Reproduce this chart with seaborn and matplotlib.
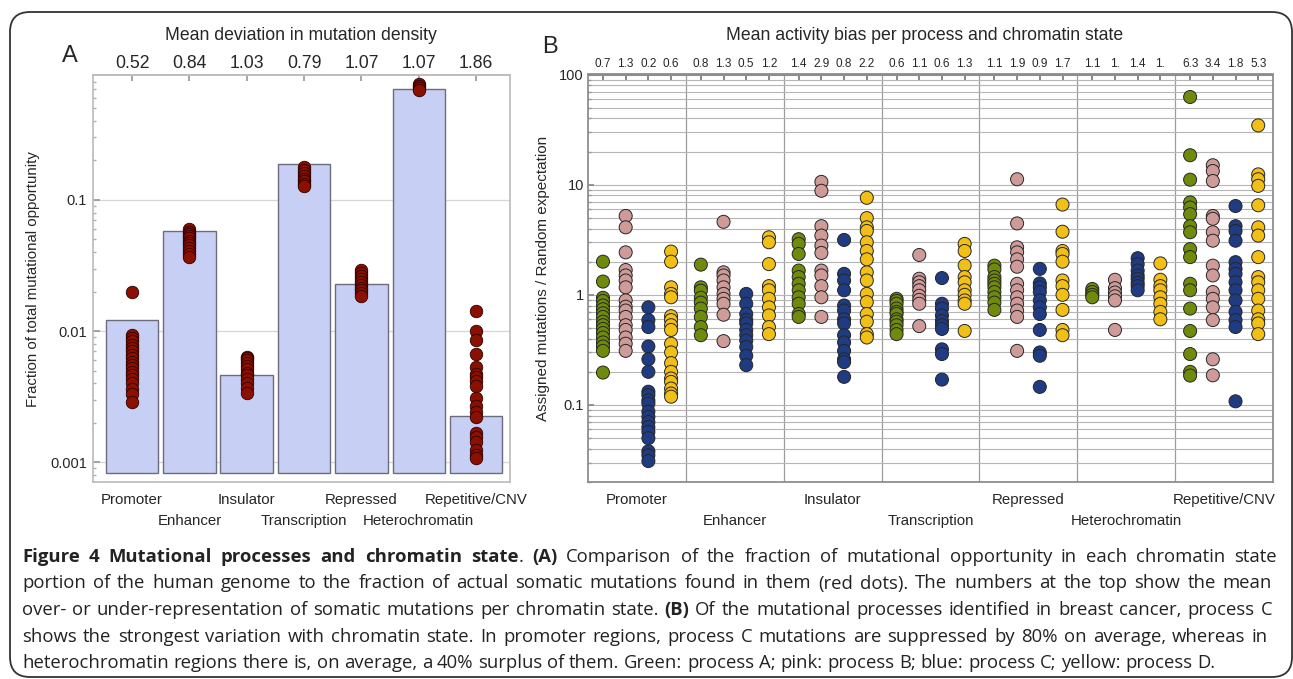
import numpy as np
import pandas as pd
import matplotlib
matplotlib.use("Agg")
import matplotlib.pyplot as plt
import seaborn as sns
from matplotlib import ticker
from matplotlib import font_manager as fm
from matplotlib.patches import FancyBboxPatch

# ---- Panel A data: chromatin states ----
states = ["Promoter", "Enhancer", "Insulator", "Transcription",
          "Repressed", "Heterochromatin", "Repetitive/CNV"]
opportunity = [0.0121, 0.058, 0.0046, 0.188, 0.0229, 0.70, 0.00224]
density_dev = ["0.52", "0.84", "1.03", "0.79", "1.07", "1.07", "1.86"]

# fraction of somatic mutations per sample (red dots)
mut_promoter = [0.0199, 0.0093, 0.0089, 0.0084, 0.0078, 0.0074, 0.0070, 0.0066, 0.0062,
                0.0058, 0.0055, 0.0052, 0.0049, 0.0046, 0.0043, 0.0040, 0.0036, 0.0033, 0.0029]
mut_enhancer = [0.060, 0.057, 0.055, 0.053, 0.051, 0.049, 0.047, 0.045, 0.043, 0.041, 0.039, 0.037]
mut_insulator = [0.0064, 0.0062, 0.0060, 0.0057, 0.0054, 0.0051, 0.0048, 0.0046, 0.0043,
                 0.0040, 0.0037, 0.0034]
mut_transcription = [0.178, 0.170, 0.160, 0.152, 0.145, 0.139, 0.133, 0.127]
mut_repressed = [0.029, 0.0277, 0.0265, 0.025, 0.0238, 0.0226, 0.0215, 0.0205, 0.0195, 0.0185]
mut_hetero = [0.76, 0.735, 0.71, 0.69]
mut_repetitive = [0.0142, 0.0100, 0.0086, 0.0067, 0.0053, 0.0047, 0.0045, 0.0042, 0.0038,
                  0.0031, 0.0027, 0.0024, 0.0022, 0.00166, 0.00155, 0.00143, 0.00124,
                  0.00113, 0.00107]

# ---- Panel B data: activity bias per process (A-D) and state ----
processes = ["A", "B", "C", "D"]
proc_colors = {"A": "#6F8B0B", "B": "#CE9B99", "C": "#1F3B82", "D": "#F2BF16"}

bias_promoter = dict(
    A=[2.0, 1.32, 0.94, 0.88, 0.8, 0.74, 0.68, 0.63, 0.57, 0.53, 0.49, 0.45, 0.41, 0.37, 0.34, 0.31, 0.197],
    B=[5.2, 4.1, 2.43, 1.68, 1.5, 1.35, 1.17, 0.89, 0.78, 0.72, 0.63, 0.53, 0.48, 0.41, 0.36, 0.31],
    C=[0.77, 0.59, 0.51, 0.34, 0.26, 0.2, 0.132, 0.123, 0.11, 0.103, 0.087, 0.078, 0.07, 0.063,
       0.057, 0.05, 0.038, 0.035, 0.031],
    D=[2.47, 2.0, 1.17, 1.02, 0.95, 0.64, 0.59, 0.53, 0.48, 0.36, 0.3, 0.24, 0.2, 0.174, 0.162,
       0.141, 0.127, 0.119])
bias_enhancer = dict(
    A=[1.88, 1.17, 1.09, 0.94, 0.85, 0.75, 0.63, 0.51, 0.43],
    B=[4.6, 1.6, 1.5, 1.35, 1.17, 1.02, 0.92, 0.83, 0.66, 0.38],
    C=[1.02, 0.83, 0.67, 0.59, 0.55, 0.48, 0.43, 0.385, 0.336, 0.28, 0.23],
    D=[3.33, 3.0, 1.9, 1.2, 1.1, 0.92, 0.77, 0.65, 0.51, 0.44])
bias_insulator = dict(
    A=[3.2, 2.9, 2.35, 1.66, 1.45, 1.26, 1.1, 0.95, 0.83, 0.67, 0.63],
    B=[10.6, 8.8, 4.2, 3.45, 2.8, 2.4, 1.66, 1.5, 1.2, 0.95, 0.63],
    C=[3.15, 1.55, 1.35, 1.1, 0.8, 0.72, 0.6, 0.55, 0.43, 0.37, 0.31, 0.26, 0.245, 0.18],
    D=[7.6, 4.97, 4.1, 3.8, 3.0, 2.5, 2.1, 1.6, 1.35, 1.02, 0.86, 0.67, 0.57, 0.44, 0.41])
bias_transcription = dict(
    A=[0.92, 0.88, 0.83, 0.75, 0.7, 0.67, 0.6, 0.57, 0.53, 0.48, 0.44],
    B=[2.3, 1.4, 1.3, 1.2, 1.1, 0.98, 0.9, 0.83, 0.52],
    C=[1.42, 0.83, 0.75, 0.65, 0.58, 0.53, 0.49, 0.32, 0.29, 0.17],
    D=[2.9, 2.5, 1.85, 1.45, 1.3, 1.1, 1.0, 0.89, 0.83, 0.47])
bias_repressed = dict(
    A=[1.84, 1.7, 1.45, 1.35, 1.26, 1.17, 1.06, 0.95, 0.85, 0.73],
    B=[11.2, 4.45, 2.7, 2.43, 2.1, 1.8, 1.26, 1.1, 0.95, 0.83, 0.72, 0.63, 0.31],
    C=[1.72, 1.27, 1.17, 1.06, 0.89, 0.77, 0.67, 0.48, 0.30, 0.28, 0.146],
    D=[6.6, 3.74, 2.5, 2.35, 2.0, 1.35, 1.2, 1.0, 0.73, 0.48, 0.43])
bias_hetero = dict(
    A=[1.13, 1.06, 1.0, 0.95],
    B=[1.37, 1.15, 1.05, 0.97, 0.89, 0.48],
    C=[2.15, 1.9, 1.66, 1.5, 1.4, 1.28, 1.2, 1.1],
    D=[1.93, 1.37, 1.2, 1.1, 0.95, 0.83, 0.7, 0.6])
bias_repetitive = dict(
    A=[62.5, 18.5, 11.1, 6.9, 6.2, 5.4, 4.2, 3.7, 2.6, 2.2, 1.26, 1.1, 0.75, 0.47, 0.29, 0.2, 0.185],
    B=[15.0, 13.3, 10.8, 5.2, 4.9, 3.7, 3.1, 1.84, 1.5, 1.06, 0.92, 0.77, 0.59, 0.26, 0.186],
    C=[6.4, 4.2, 3.8, 3.1, 1.98, 1.72, 1.55, 1.3, 1.1, 0.89, 0.7, 0.59, 0.51, 0.108],
    D=[34.5, 12.4, 11.2, 9.75, 6.5, 4.1, 3.45, 2.2, 1.45, 1.3, 1.1, 0.92, 0.72, 0.6, 0.55, 0.44])

bias_means = [["0.7", "1.3", "0.2", "0.6"], ["0.8", "1.3", "0.5", "1.2"],
              ["1.4", "2.9", "0.8", "2.2"], ["0.6", "1.1", "0.6", "1.3"],
              ["1.1", "1.9", "0.9", "1.7"], ["1.1", "1.", "1.4", "1."],
              ["6.3", "3.4", "1.8", "5.3"]]

caption_lines = [
    "**Figure 4 Mutational processes and chromatin state**. **(A)** Comparison of the fraction of mutational opportunity in each chromatin state",
    "portion of the human genome to the fraction of actual somatic mutations found in them (red dots). The numbers at the top show the mean",
    "over- or under-representation of somatic mutations per chromatin state. **(B)** Of the mutational processes identified in breast cancer, process C",
    "shows the strongest variation with chromatin state. In promoter regions, process C mutations are suppressed by 80% on average, whereas in",
    "heterochromatin regions there is, on average, a 40% surplus of them. Green: process A; pink: process B; blue: process C; yellow: process D.",
]

# ---- Setup ----
W, H = 1293, 679
sns.set_theme(style="white")
plt.rcParams["font.family"] = ["Liberation Sans", "DejaVu Sans"]

fig = plt.figure(figsize=(W / 100, H / 100), dpi=100)
axA = fig.add_axes([92.7 / W, 1 - 482.3 / H, 417.3 / W, 407.3 / H])
axB = fig.add_axes([588 / W, 1 - 482 / H, 685 / W, 407.5 / H])

g_fmt = ticker.FuncFormatter(lambda v, _: f"{v:g}")


def stagger_ticks(ax, pad1=8, pad2=23):
    # alternate category labels on two rows
    for i, tick in enumerate(ax.xaxis.get_major_ticks()):
        tick.set_pad(pad1 if i % 2 == 0 else pad2)


# ---- Panel A: opportunity bars + mutation fractions ----
dfa = pd.DataFrame({"state": states, "opportunity": opportunity})
sns.barplot(data=dfa, x="state", y="opportunity", order=states, color="#C8CFF5",
            saturation=1, width=0.917, edgecolor="#6c6c7c", linewidth=1.0, ax=axA)

mut_lists = [mut_promoter, mut_enhancer, mut_insulator, mut_transcription,
             mut_repressed, mut_hetero, mut_repetitive]
dfm = pd.DataFrame([(s, v) for s, vals in zip(states, mut_lists) for v in vals],
                   columns=["state", "fraction"])
sns.stripplot(data=dfm, x="state", y="fraction", order=states, jitter=False,
              color="#8C1000", size=9, edgecolor="#2b0000", linewidth=0.6,
              ax=axA, zorder=3)

axA.set_yscale("log")
bar_base = 0.000824
for p in axA.patches:
    top = p.get_y() + p.get_height()
    p.set_y(bar_base)
    p.set_height(top - bar_base)
axA.set_ylim(0.000704, 0.897)
axA.set_xlim(-0.686, 6.59)

axA.set_xticks(range(len(states)))
axA.set_xticklabels(states, fontsize=10.8)
axA.tick_params(axis="x", length=0)
axA.set_xlabel("")
axA.set_ylabel("Fraction of total mutational opportunity", fontsize=10.8)
axA.yaxis.set_label_coords(-0.126, 0.5)
axA.yaxis.set_major_locator(ticker.FixedLocator([0.001, 0.01, 0.1]))
axA.yaxis.set_major_formatter(g_fmt)
axA.yaxis.set_minor_locator(ticker.LogLocator(subs=np.arange(2, 10), numticks=50))
axA.yaxis.set_minor_formatter(ticker.NullFormatter())
axA.tick_params(axis="y", which="major", left=True, direction="in", length=5,
                color="#9a9a9a", labelsize=10.5, pad=4)
axA.tick_params(axis="y", which="minor", left=True, direction="in", length=2.5, color="#b0b0b0")
axA.grid(axis="y", which="major", color="#d6d6d6", lw=0.9)
axA.set_axisbelow(True)
for sp in axA.spines.values():
    sp.set_color("#bdbdbd")
stagger_ticks(axA)

secA = axA.secondary_xaxis("top")
secA.set_xticks(range(len(states)), labels=density_dev)
secA.tick_params(direction="in", length=4, color="#9a9a9a", labelsize=12.7, pad=2)
secA.spines["top"].set_color("#bdbdbd")

# ---- Panel B: activity bias dots ----
GROUP_W, PAD = 4.311, 0.66
bias_sets = [bias_promoter, bias_enhancer, bias_insulator, bias_transcription,
             bias_repressed, bias_hetero, bias_repetitive]
rows = [(gi, pi, proc, v) for gi, d in enumerate(bias_sets)
        for pi, proc in enumerate(processes) for v in d[proc]]
dfb = pd.DataFrame(rows, columns=["group", "pidx", "process", "bias"])
dfb["pos"] = dfb["group"] * GROUP_W + PAD + dfb["pidx"]

sns.scatterplot(data=dfb, x="pos", y="bias", hue="process", hue_order=processes,
                palette=proc_colors, s=88, edgecolor="#262626", linewidth=0.7,
                legend=False, ax=axB, zorder=3)
axB.set_yscale("log")
axB.set_ylim(0.02, 100)
axB.set_xlim(0, len(states) * GROUP_W)

axB.set_xticks([g * GROUP_W + GROUP_W / 2 for g in range(len(states))])
axB.set_xticklabels(states, fontsize=10.8)
axB.tick_params(axis="x", which="major", length=0)
axB.xaxis.set_minor_locator(ticker.FixedLocator([g * GROUP_W for g in range(1, len(states))]))
axB.tick_params(axis="x", which="minor", length=0)
axB.grid(axis="x", which="minor", color="#9c9c9c", lw=0.9)
axB.yaxis.set_major_locator(ticker.FixedLocator([0.1, 1, 10, 100]))
axB.yaxis.set_major_formatter(g_fmt)
axB.yaxis.set_minor_locator(ticker.LogLocator(subs=np.arange(2, 10), numticks=50))
axB.yaxis.set_minor_formatter(ticker.NullFormatter())
axB.grid(axis="y", which="both", color="#b6b6b6", lw=0.8)
axB.tick_params(axis="y", which="major", left=True, direction="in", length=4,
                color="#888888", labelsize=10.5, pad=3)
axB.tick_params(axis="y", which="minor", left=True, direction="in", length=2, color="#999999")
axB.set_axisbelow(True)
axB.set_xlabel("")
axB.set_ylabel("Assigned mutations / Random expectation", fontsize=11)
axB.yaxis.set_label_coords(-0.0555, 0.5)
for sp in axB.spines.values():
    sp.set_color("#8a8a8a")
stagger_ticks(axB)

secB = axB.secondary_xaxis("top")
col_pos = [g * GROUP_W + PAD + k for g in range(len(states)) for k in range(len(processes))]
secB.set_xticks(col_pos, labels=[m for grp in bias_means for m in grp])
secB.tick_params(direction="in", length=5, color="#777777", labelsize=8.5, pad=3)
secB.spines["top"].set_color("#8a8a8a")

# ---- Titles and panel letters ----
fig.text(301 / W, 1 - 40 / H, "Mean deviation in mutation density",
         ha="center", va="baseline", fontsize=12.7)
fig.text(925 / W, 1 - 39.5 / H, "Mean activity bias per process and chromatin state",
         ha="center", va="baseline", fontsize=12.7)
fig.text(62 / W, 1 - 62.3 / H, "A", ha="left", va="baseline", fontsize=17)
fig.text(542 / W, 1 - 53.3 / H, "B", ha="left", va="baseline", fontsize=17)

# ---- Caption ----
def weight_of(entry):
    w = entry.weight
    return fm.weight_dict.get(w, 400) if isinstance(w, str) else w

names = {f.name for f in fm.fontManager.ttflist}
cap_family = "Open Sans" if "Open Sans" in names else "DejaVu Sans"
bold_family = cap_family
if not any(f.name == cap_family and weight_of(f) >= 600 for f in fm.fontManager.ttflist):
    bold_family = "Noto Sans"
cap_size = 13.3


def parse_words(text):
    words, cur, buf, bold, i = [], [], "", False, 0
    while i < len(text):
        if text.startswith("**", i):
            if buf:
                cur.append((buf, bold))
                buf = ""
            bold = not bold
            i += 2
            continue
        ch = text[i]
        if ch == " ":
            if buf:
                cur.append((buf, bold))
                buf = ""
            if cur:
                words.append(cur)
                cur = []
        else:
            buf += ch
        i += 1
    if buf:
        cur.append((buf, bold))
    if cur:
        words.append(cur)
    return words


renderer = fig.canvas.get_renderer()


def make_text(s, bold):
    return fig.text(0, 0, s, fontsize=cap_size, ha="left", va="baseline",
                    family=[bold_family if bold else cap_family, "DejaVu Sans"],
                    fontweight="bold" if bold else "normal", color="#222222")


t1, t2 = make_text("a a", False), make_text("aa", False)
space_w = t1.get_window_extent(renderer).width - t2.get_window_extent(renderer).width
t1.remove()
t2.remove()

x0 = 22
baselines = [562, 588.5, 615, 641.5, 668]
right_edges = [1277, 1272, 1272, 1268, None]   # justified lines, last one ragged
for line, yb, x1 in zip(caption_lines, baselines, right_edges):
    words = []
    for word in parse_words(line):
        pieces = [(make_text(piece, bold)) for piece, bold in word]
        widths = [t.get_window_extent(renderer).width for t in pieces]
        words.append((pieces, widths))
    total = sum(sum(w) for _, w in words)
    gap = space_w if x1 is None else (x1 - x0 - total) / (len(words) - 1)
    x = x0
    for pieces, widths in words:
        for t, w in zip(pieces, widths):
            t.set_position((x / W, 1 - yb / H))
            x += w
        x += gap

# ---- Rounded frame ----
frame = FancyBboxPatch((0.10, 0.02), 12.82, 6.65, boxstyle="round,pad=0,rounding_size=0.2",
                       transform=fig.dpi_scale_trans, fill=False, edgecolor="#333333", lw=1.3)
fig.patches.append(frame)

fig.savefig("out.png", dpi=100)
